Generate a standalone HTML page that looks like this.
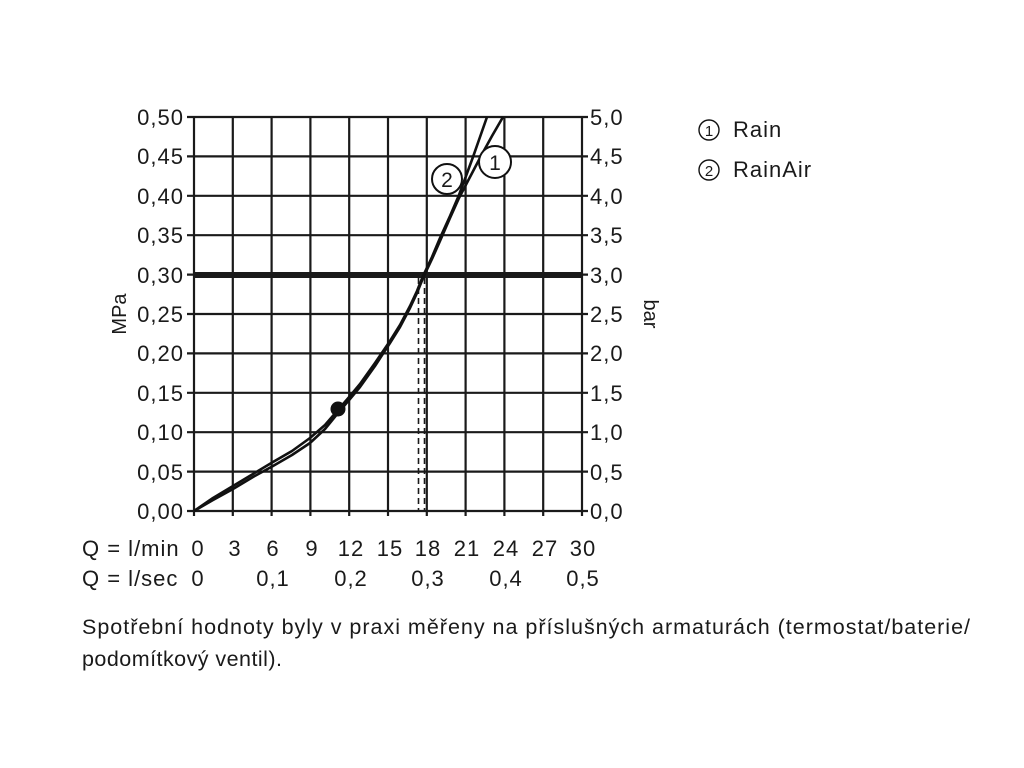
<!DOCTYPE html>
<html><head><meta charset="utf-8"><style>
body{margin:0;background:#fff;width:1024px;height:768px;overflow:hidden}
svg{display:block}
text{font-family:"Liberation Sans",sans-serif;fill:#1a1a1a}
.t{font-size:22px;letter-spacing:1px}
</style></head><body>
<svg width="1024" height="768" viewBox="0 0 1024 768">
<g stroke="#1a1a1a" stroke-width="2.2" fill="none">
<path d="M194,117V516 M232.8,117V516 M271.6,117V516 M310.4,117V516 M349.2,117V516 M388,117V516 M426.8,117V516 M465.6,117V516 M504.4,117V516 M543.2,117V516 M582,117V516"/>
<path d="M187,117H588 M187,156.4H588 M187,195.8H588 M187,235.2H588 M187,274.6H588 M187,314H588 M187,353.4H588 M187,392.8H588 M187,432.2H588 M187,471.6H588 M187,511H588"/>
</g>
<line x1="194" y1="275" x2="582" y2="275" stroke="#1a1a1a" stroke-width="6"/>
<g stroke="#1a1a1a" stroke-width="1.6" stroke-dasharray="6,4">
<line x1="418.5" y1="278" x2="418.5" y2="511"/>
<line x1="424.5" y1="278" x2="424.5" y2="511"/>
</g>
<g fill="none" stroke="#111" stroke-width="2.6" stroke-linejoin="round">
<polyline points="194,511 213,498 233,486 253,474 273,462 292,451 310,438 325,425 338,410 350,396 360,384 375,363 390,341 400,325 410,306 417,291 423,276 432,257 440,238 450,216 459,195 466,176 473,157 480,137 487,117"/>
<polyline points="194,511 213,500 233,489 253,477 273,466 292,455 310,443 325,429 338,413 350,399 360,387 375,366 390,343 400,327 410,308 417,293 423,278 432,259 440,241 450,218 459,198 470,177 481,156 492,136 503,117"/>
</g>
<circle cx="338" cy="409" r="7.5" fill="#111"/>
<circle cx="447" cy="179" r="15" fill="#fff" stroke="#111" stroke-width="2"/>
<text x="447" y="187" font-size="21" text-anchor="middle">2</text>
<circle cx="495" cy="162" r="16" fill="#fff" stroke="#111" stroke-width="2"/>
<text x="495" y="170" font-size="21" text-anchor="middle">1</text>
<g class="t" text-anchor="end">
<text x="184" y="125">0,50</text><text x="184" y="164">0,45</text><text x="184" y="204">0,40</text><text x="184" y="243">0,35</text><text x="184" y="283">0,30</text><text x="184" y="322">0,25</text><text x="184" y="361">0,20</text><text x="184" y="401">0,15</text><text x="184" y="440">0,10</text><text x="184" y="480">0,05</text><text x="184" y="519">0,00</text>
</g>
<g class="t">
<text x="590" y="125">5,0</text><text x="590" y="164">4,5</text><text x="590" y="204">4,0</text><text x="590" y="243">3,5</text><text x="590" y="283">3,0</text><text x="590" y="322">2,5</text><text x="590" y="361">2,0</text><text x="590" y="401">1,5</text><text x="590" y="440">1,0</text><text x="590" y="480">0,5</text><text x="590" y="519">0,0</text>
</g>
<text transform="translate(126,314) rotate(-90)" font-size="20" text-anchor="middle">MPa</text>
<text transform="translate(644,314) rotate(90)" font-size="20" text-anchor="middle">bar</text>
<g class="t" text-anchor="middle">
<text x="198" y="556">0</text><text x="235" y="556">3</text><text x="273" y="556">6</text><text x="312" y="556">9</text><text x="351" y="556">12</text><text x="390" y="556">15</text><text x="428" y="556">18</text><text x="467" y="556">21</text><text x="506" y="556">24</text><text x="545" y="556">27</text><text x="583" y="556">30</text>
<text x="198" y="586">0</text><text x="273" y="586">0,1</text><text x="351" y="586">0,2</text><text x="428" y="586">0,3</text><text x="506" y="586">0,4</text><text x="583" y="586">0,5</text>
</g>
<text x="82" y="556" class="t">Q = l/min</text>
<text x="82" y="586" class="t">Q = l/sec</text>
<circle cx="709" cy="130" r="10" fill="none" stroke="#111" stroke-width="1.4"/><text x="709" y="136" font-size="15" text-anchor="middle">1</text>
<text x="733" y="137" class="t">Rain</text>
<circle cx="709" cy="170" r="10" fill="none" stroke="#111" stroke-width="1.4"/><text x="709" y="176" font-size="15" text-anchor="middle">2</text>
<text x="733" y="177" class="t">RainAir</text>
<text x="82" y="634" font-size="21.5" textLength="888" lengthAdjust="spacing">Spotřební hodnoty byly v praxi měřeny na příslušných armaturách (termostat/baterie/</text>
<text x="82" y="666" font-size="21.5" textLength="200" lengthAdjust="spacing">podomítkový ventil).</text>
</svg>
</body></html>
